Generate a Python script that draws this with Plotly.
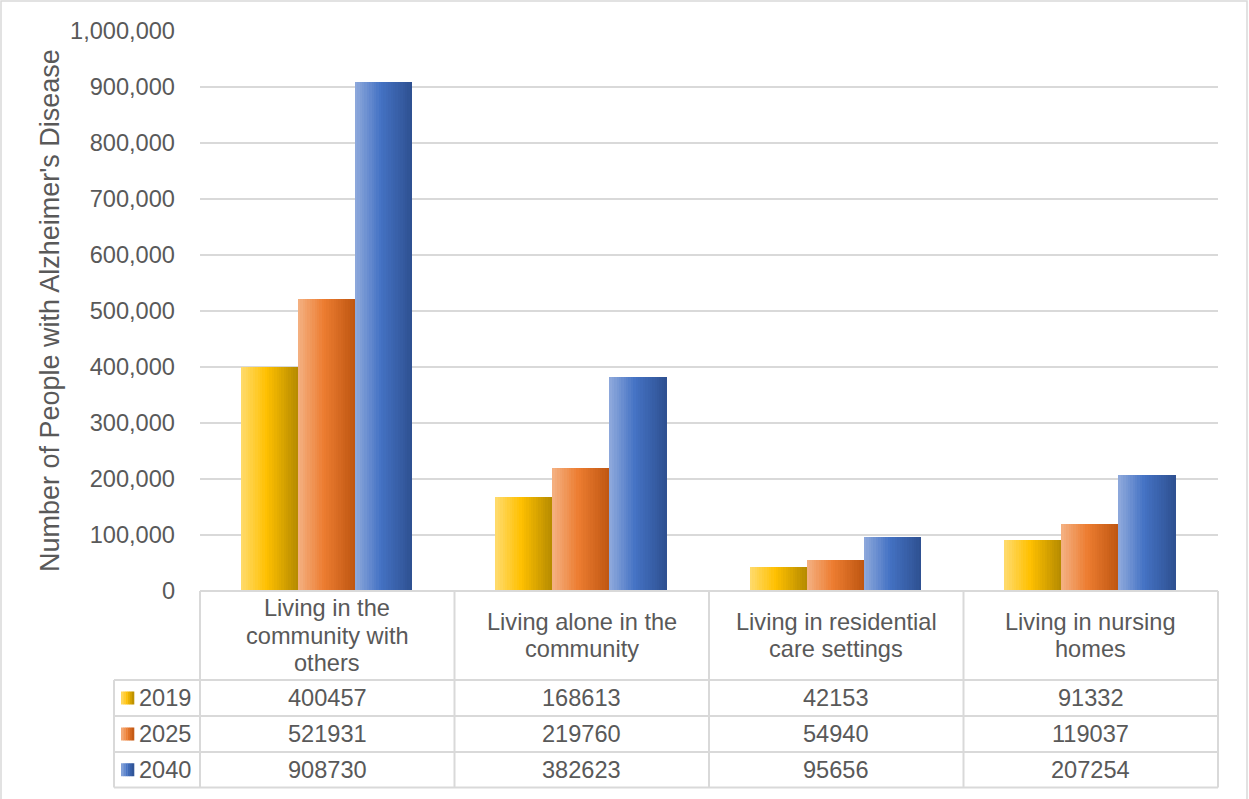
import plotly.graph_objects as go

categories = ["Living in the community with others", "Living alone in the community",
              "Living in residential care settings", "Living in nursing homes"]
cat_labels = ["Living in the<br>community with<br>others", "Living alone in the<br>community",
              "Living in residential<br>care settings", "Living in nursing<br>homes"]
series_names = ["2019", "2025", "2040"]
vals_2019 = [400457, 168613, 42153, 91332]
vals_2025 = [521931, 219760, 54940, 119037]
vals_2040 = [908730, 382623, 95656, 207254]
series_values = [vals_2019, vals_2025, vals_2040]
y_title = "Number of People with Alzheimer's Disease"

grads = [
    [(0.0, "#FFDB6E"), (0.45, "#FFC000"), (1.0, "#B48A00")],
    [(0.0, "#F4B183"), (0.45, "#ED7D31"), (1.0, "#BE5511")],
    [(0.0, "#8FAADC"), (0.45, "#4472C4"), (1.0, "#2E5090")],
]

def hex2rgb(h):
    h = h.lstrip("#")
    return tuple(int(h[i:i + 2], 16) for i in (0, 2, 4))

def interp(stops, t):
    for (t0, c0), (t1, c1) in zip(stops[:-1], stops[1:]):
        if t0 <= t <= t1:
            f = (t - t0) / (t1 - t0) if t1 > t0 else 0
            a, b = hex2rgb(c0), hex2rgb(c1)
            r = [round(a[j] + (b[j] - a[j]) * f) for j in range(3)]
            return "rgb(%d,%d,%d)" % tuple(r)
    return stops[-1][1]

# layout geometry (pixels)
W, H = 1249, 799
L, R, T, B = 200, 1218, 31, 591
pw, ph = R - L, B - T

def px(x):
    return (x - L) / pw

def py(y):
    return (B - y) / ph

fig = go.Figure()
xs = list(range(len(categories)))
bw = 0.224
K = 24
group = bw * len(series_values)
for i, vals in enumerate(series_values):
    start = -group / 2 + i * bw - 0.003
    for k in range(K):
        t = (k + 0.5) / K
        w = bw / K * (1.6 if k < K - 1 else 1.0)
        fig.add_trace(go.Bar(
            x=xs, y=vals, width=[w] * len(xs), offset=start + k * bw / K,
            marker=dict(color=interp(grads[i], t), line=dict(width=0)),
            showlegend=False, hoverinfo="skip", name=series_names[i]))

grid = "#D9D9D9"
txt = "#595959"
FS = 23.6
font = dict(family="Liberation Sans, Arial, sans-serif", size=FS, color=txt)
title_font = dict(family="Liberation Sans, Arial, sans-serif", size=27, color=txt)

shapes = []
anns = []
# outer border
shapes.append(dict(type="rect", xref="paper", yref="paper", x0=px(1), x1=px(1247), y0=py(805), y1=py(1),
                   line=dict(color="#D9D9D9", width=1.5), fillcolor="rgba(0,0,0,0)", layer="below"))
# table
col_edges = [L + pw * j / 4 for j in range(5)]
row_edges = [591, 680, 716, 752, 787.5]
leg_left = 114
for j, xe in enumerate(col_edges):
    shapes.append(dict(type="line", xref="paper", yref="paper", x0=px(xe), x1=px(xe), y0=py(591), y1=py(787.5),
                       line=dict(color=grid, width=2)))
shapes.append(dict(type="line", xref="paper", yref="paper", x0=px(leg_left), x1=px(leg_left), y0=py(680), y1=py(787.5),
                   line=dict(color=grid, width=2)))
shapes.append(dict(type="line", xref="paper", yref="paper", x0=px(L), x1=px(R), y0=py(591), y1=py(591),
                   line=dict(color=grid, width=2)))
for ye in row_edges[1:]:
    shapes.append(dict(type="line", xref="paper", yref="paper", x0=px(leg_left), x1=px(R), y0=py(ye), y1=py(ye),
                       line=dict(color=grid, width=2)))

LINE_H = 27.5
for j, lab in enumerate(cat_labels):
    cx = (col_edges[j] + col_edges[j + 1]) / 2
    lines = lab.split("<br>")
    n = len(lines)
    for m, ln in enumerate(lines):
        cy = (591 + 680) / 2 + (m - (n - 1) / 2) * LINE_H
        anns.append(dict(text=ln, xref="paper", yref="paper", x=px(cx), y=py(cy),
                         xanchor="center", yanchor="middle", showarrow=False, font=font))
for i, vals in enumerate(series_values):
    cy = (row_edges[i + 1] + row_edges[i + 2]) / 2
    for j, v in enumerate(vals):
        cx = (col_edges[j] + col_edges[j + 1]) / 2
        anns.append(dict(text=str(v), xref="paper", yref="paper", x=px(cx), y=py(cy),
                         xanchor="center", yanchor="middle", showarrow=False, font=font))
    anns.append(dict(text=series_names[i], xref="paper", yref="paper", x=px(137), y=py(cy),
                     xanchor="left", yanchor="middle", showarrow=False, font=font))
    # legend key with gradient
    KS = 6
    for k in range(KS):
        x0 = 121 + 13 * k / KS
        x1 = 121 + 13 * (k + 1) / KS
        shapes.append(dict(type="rect", xref="paper", yref="paper", x0=px(x0), x1=px(x1 + 0.3),
                           y0=py(cy + 6.5), y1=py(cy - 6.5),
                           fillcolor=interp(grads[i], (k + 0.5) / KS), line=dict(width=0)))

# y-axis title
anns.append(dict(text=y_title, xref="paper", yref="paper", x=px(50), y=py(311), textangle=-90,
                 xanchor="center", yanchor="middle", showarrow=False, font=title_font))

fig.update_layout(
    width=W, height=H, autosize=False,
    margin=dict(l=L, r=W - R, t=T, b=H - B),
    paper_bgcolor="white", plot_bgcolor="white",
    barmode="overlay", bargap=0,
    font=font, showlegend=False,
    shapes=shapes, annotations=anns,
    xaxis=dict(range=[-0.5, 3.5], showticklabels=False, showgrid=False, zeroline=False,
               ticks="", showline=False, fixedrange=True),
    yaxis=dict(range=[0, 1000000], dtick=100000, tickformat=",d", showgrid=True, gridcolor=grid,
               gridwidth=2, zeroline=False, showline=False, ticks="", ticklabelstandoff=24,
               tickfont=font),
)

fig.write_html("out.html", config={"displayModeBar": False},
               post_script="document.body.style.margin='0';document.body.style.overflow='hidden';")
